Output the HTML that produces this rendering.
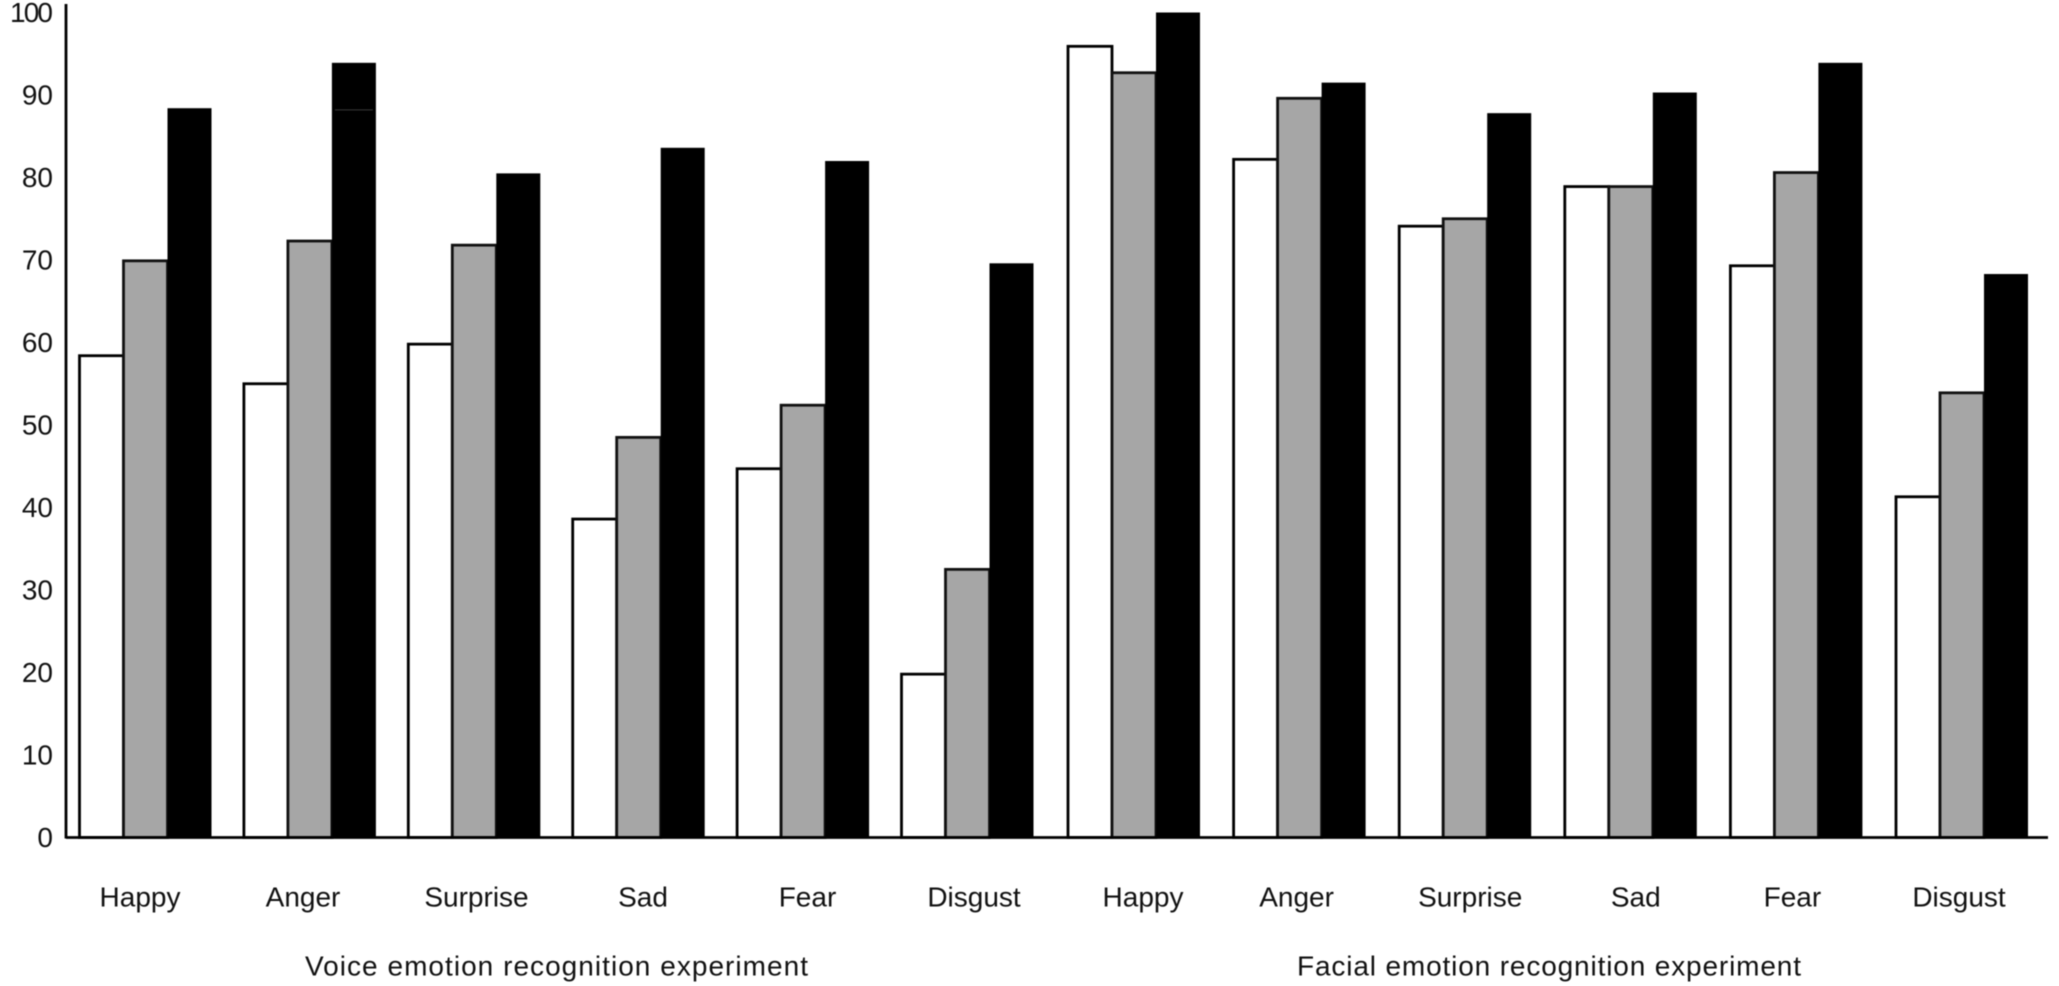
<!DOCTYPE html>
<html lang="en">
<head>
<meta charset="utf-8">
<title>Emotion recognition experiments bar chart</title>
<style>
  html, body { margin: 0; padding: 0; background: #ffffff; }
  body { width: 2059px; height: 986px; overflow: hidden; }
  svg { display: block; filter: blur(0.45px); }
  text { font-family: "Liberation Sans", sans-serif; fill: #111111; }
</style>
</head>
<body>
<svg id="chart" xmlns="http://www.w3.org/2000/svg" width="2059" height="986" viewBox="0 0 2059 986">
  <text x="305" y="975.5" font-size="28" textLength="503" lengthAdjust="spacing">Voice emotion recognition experiment</text>
  <text x="1297" y="975.5" font-size="28" textLength="504" lengthAdjust="spacing">Facial emotion recognition experiment</text>
</svg>
<script>
const categories = ["Happy", "Anger", "Surprise", "Sad", "Fear", "Disgust", "Happy", "Anger", "Surprise", "Sad", "Fear", "Disgust"];
const whiteValues = [58.4, 55.0, 59.8, 38.6, 44.7, 19.8, 95.9, 82.2, 74.1, 78.9, 69.3, 41.3];
const grayValues = [69.9, 72.3, 71.8, 48.5, 52.4, 32.5, 92.7, 89.6, 75.0, 78.9, 80.6, 53.9];
const blackValues = [88.4, 93.9, 80.5, 83.6, 82.0, 69.6, 100.0, 91.5, 87.8, 90.3, 93.9, 68.3];
const yTickValues = [0, 10, 20, 30, 40, 50, 60, 70, 80, 90, 100];
const angerSeamValue = 88.2;

const svgNS = "http://www.w3.org/2000/svg";
const chart = document.getElementById("chart");
const labelNudge = [-5.5, -7, 2, 4, 4, 6, 8, -4, 4, 4, -5, -4];

const BASE_Y = 837.5;
const PX_PER_UNIT = 8.25;
const BAR_W = 44;
const AXIS_X = 66;
const AXIS_TOP = 4;
const AXIS_RIGHT = 2048;
const INK = "#000000";

function yScale(v) {
  return BASE_Y - v * PX_PER_UNIT;
}
function groupX(g) {
  return g < 6 ? 79.5 + g * 164.4 : 1068 + (g - 6) * 165.6;
}
function barX(g, s) {
  return groupX(g) + s * BAR_W;
}
function make(tag, attrs) {
  const el = document.createElementNS(svgNS, tag);
  Object.keys(attrs).forEach(function (k) { el.setAttribute(k, attrs[k]); });
  return el;
}

const seriesList = [
  { key: "white", values: whiteValues, fill: "#ffffff", stroke: INK },
  { key: "gray", values: grayValues, fill: "#a6a6a6", stroke: "#111111" },
  { key: "black", values: blackValues, fill: "#000000", stroke: "none" }
];

seriesList.forEach(function (series, s) {
  series.values.forEach(function (v, g) {
    const bar = make("rect", {
      x: barX(g, s),
      y: yScale(v),
      width: BAR_W,
      height: BASE_Y - yScale(v),
      fill: series.fill,
      stroke: series.stroke,
      "stroke-width": 2.8
    });
    
    
    chart.appendChild(bar);
  });
});

const seam = make("line", {
  x1: barX(1, 2) + 3,
  x2: barX(1, 3) - 3,
  y1: yScale(angerSeamValue),
  y2: yScale(angerSeamValue),
  stroke: "#3a3a3a",
  "stroke-width": 1
});


chart.appendChild(seam);

const yAxis = make("line", { x1: AXIS_X, x2: AXIS_X, y1: AXIS_TOP, y2: BASE_Y + 1, stroke: INK, "stroke-width": 2.8 });


chart.appendChild(yAxis);

const xAxis = make("line", { x1: AXIS_X, x2: AXIS_RIGHT, y1: BASE_Y, y2: BASE_Y, stroke: INK, "stroke-width": 2.8 });


chart.appendChild(xAxis);

yTickValues.forEach(function (t) {
  const label = make("text", { x: 53, y: yScale(t) + 9.5, "text-anchor": "end", "font-size": 28 });
  if (String(t).length === 3) {
    label.setAttribute("textLength", "43");
  }
  
  
  label.textContent = String(t);
  chart.appendChild(label);
});

categories.forEach(function (name, g) {
  const label = make("text", {
    x: (g < 6 ? 78.5 + g * 164.5 : groupX(g)) + 1.5 * BAR_W + 1 + labelNudge[g],
    y: 906.5,
    "text-anchor": "middle",
    "font-size": 28
  });
  
  
  label.textContent = name;
  chart.appendChild(label);
});
</script>
</body>
</html>
